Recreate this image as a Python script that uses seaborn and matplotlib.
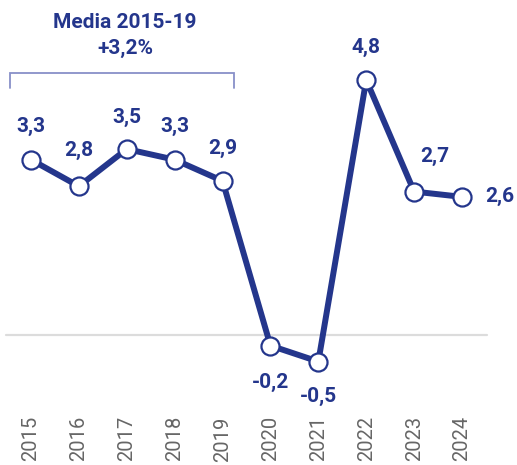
import matplotlib
matplotlib.use("Agg")
import matplotlib.pyplot as plt
import seaborn as sns
import pandas as pd

years = [2015, 2016, 2017, 2018, 2019, 2020, 2021, 2022, 2023, 2024]
values = [3.3, 2.8, 3.5, 3.3, 2.9, -0.2, -0.5, 4.8, 2.7, 2.6]
labels = ["3,3", "2,8", "3,5", "3,3", "2,9", "-0,2", "-0,5", "4,8", "2,7", "2,6"]
bracket_title = "Media 2015-19"
bracket_value = "+3,2%"

NAVY = "#24368c"
sns.set_style("white")
plt.rcParams["font.family"] = ["Roboto", "DejaVu Sans"]

df = pd.DataFrame({"year": years, "value": values})

fig = plt.figure(figsize=(5.17, 4.65), dpi=100)
ax = fig.add_axes([0, 0.114, 1, 0.886])

x0 = years[0]
ax.set_xlim(x0 - 0.647, x0 + 10.148)
ax.set_ylim(-1.449, 6.306)

# zero line
ax.plot([x0 - 0.52, x0 + 9.52], [0, 0], color="#dcdcdc", lw=1.6, zorder=1)

sns.lineplot(data=df, x="year", y="value", ax=ax, color=NAVY, linewidth=4.3,
             marker="o", markersize=13, markerfacecolor="white",
             markeredgecolor=NAVY, markeredgewidth=1.6, zorder=3)

# label offsets in pixels (dx, dy) converted to points
offs_px = [(0, 33), (0, 36), (0, 32), (0, 33), (0, 33),
           (0, -37), (0, -35), (0, 33), (21, 35), (38, 0)]
for yr, v, lab, (dx, dy) in zip(years, values, labels, offs_px):
    ax.annotate(lab, (yr, v), xytext=(dx * 0.72, dy * 0.72), textcoords="offset points",
                ha="center", va="center", fontsize=15, fontweight="bold", color=NAVY)

# bracket
bl, br = x0 - 0.438, x0 + 4.24
ax.plot([bl, bl, br, br], [4.65, 4.94, 4.94, 4.65], color="#8890c8", lw=1.3,
        solid_joinstyle="miter", zorder=2)
ax.text(x0 + 1.963, 5.89, bracket_title, ha="center", va="center",
        fontsize=15, fontweight="bold", color=NAVY)
ax.text(x0 + 1.963, 5.40, bracket_value, ha="center", va="center",
        fontsize=15, fontweight="bold", color=NAVY)

ax.set_xticks(years)
ax.set_xticklabels([str(y) for y in years], rotation=90, fontsize=14.5, color="#666666")
ax.tick_params(axis="x", length=0, pad=3)
ax.set_yticks([])
ax.set_xlabel("")
ax.set_ylabel("")
for s in ax.spines.values():
    s.set_visible(False)

fig.savefig("out.png", dpi=100)
